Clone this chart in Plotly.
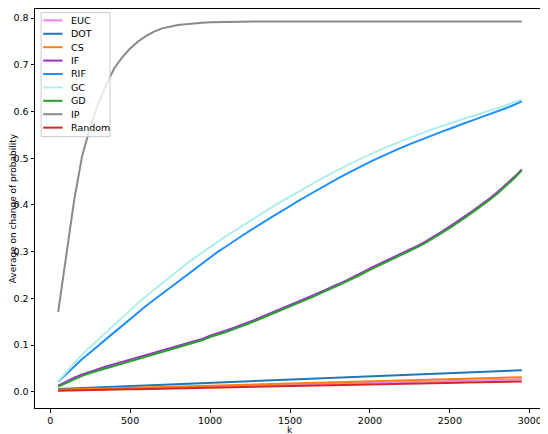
#!/usr/bin/env python3

import plotly.graph_objs as go

# Data
k = [50, 100, 150, 200, 250, 300, 350, 400, 450, 500,
     550, 600, 650, 700, 750, 800, 850, 900, 950, 1000,
     1050, 1100, 1150, 1200, 1250, 1300, 1350, 1400, 1450, 1500,
     1550, 1600, 1650, 1700, 1750, 1800, 1850, 1900, 1950, 2000,
     2050, 2100, 2150, 2200, 2250, 2300, 2350, 2400, 2450, 2500,
     2550, 2600, 2650, 2700, 2750, 2800, 2850, 2900, 2950]

euc = [0.0030, 0.0036, 0.0039, 0.0044, 0.0047, 0.0053, 0.0055, 0.0061, 0.0064, 0.0068,
       0.0071, 0.0077, 0.0079, 0.0085, 0.0088, 0.0092, 0.0097, 0.0099, 0.0105, 0.0107,
       0.0113, 0.0116, 0.0120, 0.0124, 0.0128, 0.0133, 0.0135, 0.0141, 0.0143, 0.0149,
       0.0151, 0.0156, 0.0159, 0.0164, 0.0167, 0.0172, 0.0175, 0.0180, 0.0184, 0.0187,
       0.0193, 0.0195, 0.0201, 0.0204, 0.0208, 0.0212, 0.0217, 0.0220, 0.0224, 0.0229,
       0.0232, 0.0237, 0.0240, 0.0245, 0.0248, 0.0253, 0.0257, 0.0262, 0.0266]

dot = [0.0060, 0.0067, 0.0074, 0.0081, 0.0088, 0.0095, 0.0101, 0.0108, 0.0115, 0.0122,
       0.0129, 0.0136, 0.0143, 0.0150, 0.0157, 0.0164, 0.0170, 0.0177, 0.0184, 0.0191,
       0.0198, 0.0205, 0.0212, 0.0219, 0.0226, 0.0233, 0.0239, 0.0246, 0.0253, 0.0260,
       0.0267, 0.0274, 0.0281, 0.0288, 0.0295, 0.0302, 0.0308, 0.0315, 0.0322, 0.0329,
       0.0336, 0.0343, 0.0350, 0.0357, 0.0364, 0.0371, 0.0377, 0.0384, 0.0391, 0.0398,
       0.0405, 0.0412, 0.0419, 0.0426, 0.0433, 0.0440, 0.0446, 0.0453, 0.0460]

cs = [0.0040, 0.0045, 0.0049, 0.0054, 0.0059, 0.0063, 0.0068, 0.0073, 0.0077, 0.0082,
      0.0087, 0.0091, 0.0096, 0.0101, 0.0105, 0.0110, 0.0115, 0.0119, 0.0124, 0.0129,
      0.0133, 0.0138, 0.0143, 0.0147, 0.0152, 0.0157, 0.0161, 0.0166, 0.0171, 0.0175,
      0.0180, 0.0185, 0.0189, 0.0194, 0.0199, 0.0203, 0.0208, 0.0213, 0.0217, 0.0222,
      0.0227, 0.0231, 0.0236, 0.0241, 0.0245, 0.0250, 0.0255, 0.0259, 0.0264, 0.0269,
      0.0273, 0.0278, 0.0283, 0.0287, 0.0292, 0.0297, 0.0301, 0.0306, 0.0310]

inf = [0.013, 0.022, 0.030, 0.037, 0.043, 0.048, 0.054, 0.059, 0.064, 0.069,
       0.073, 0.078, 0.083, 0.088, 0.093, 0.098, 0.103, 0.108, 0.113, 0.120,
       0.125, 0.131, 0.137, 0.143, 0.150, 0.157, 0.164, 0.171, 0.178, 0.185,
       0.192, 0.200, 0.207, 0.215, 0.222, 0.230, 0.238, 0.246, 0.255, 0.264,
       0.272, 0.281, 0.289, 0.297, 0.305, 0.313, 0.322, 0.332, 0.343, 0.354,
       0.365, 0.377, 0.389, 0.401, 0.414, 0.428, 0.443, 0.459, 0.476]

rif = [0.021, 0.038, 0.054, 0.070, 0.084, 0.099, 0.113, 0.127, 0.141, 0.156,
       0.170, 0.184, 0.197, 0.210, 0.223, 0.236, 0.249, 0.262, 0.275, 0.288,
       0.300, 0.311, 0.323, 0.334, 0.345, 0.356, 0.366, 0.377, 0.387, 0.398,
       0.408, 0.418, 0.428, 0.438, 0.447, 0.457, 0.466, 0.475, 0.483, 0.492,
       0.500, 0.508, 0.515, 0.523, 0.530, 0.537, 0.543, 0.550, 0.557, 0.563,
       0.570, 0.576, 0.582, 0.588, 0.594, 0.600, 0.607, 0.614, 0.622]

gc = [0.022, 0.042, 0.061, 0.080, 0.096, 0.112, 0.128, 0.143, 0.159, 0.175,
      0.190, 0.205, 0.219, 0.233, 0.247, 0.260, 0.273, 0.286, 0.298, 0.310,
      0.321, 0.333, 0.344, 0.355, 0.366, 0.377, 0.387, 0.398, 0.408, 0.418,
      0.428, 0.438, 0.447, 0.457, 0.466, 0.475, 0.483, 0.492, 0.500, 0.508,
      0.515, 0.523, 0.530, 0.537, 0.544, 0.550, 0.557, 0.563, 0.569, 0.575,
      0.580, 0.586, 0.591, 0.597, 0.602, 0.607, 0.613, 0.619, 0.626]

gd = [0.011, 0.019, 0.027, 0.034, 0.040, 0.045, 0.051, 0.056, 0.061, 0.066,
      0.070, 0.075, 0.080, 0.085, 0.090, 0.095, 0.100, 0.105, 0.110, 0.117,
      0.122, 0.128, 0.134, 0.140, 0.147, 0.154, 0.161, 0.168, 0.175, 0.182,
      0.189, 0.197, 0.204, 0.212, 0.219, 0.227, 0.235, 0.243, 0.252, 0.261,
      0.269, 0.278, 0.286, 0.294, 0.302, 0.310, 0.319, 0.329, 0.340, 0.351,
      0.362, 0.374, 0.386, 0.398, 0.411, 0.425, 0.440, 0.456, 0.474]

ip = [0.171, 0.296, 0.410, 0.505, 0.566, 0.617, 0.657, 0.692, 0.716, 0.735,
      0.750, 0.762, 0.771, 0.778, 0.782, 0.785, 0.787, 0.789, 0.790, 0.791,
      0.7915, 0.792, 0.7923, 0.7925, 0.7927, 0.7928, 0.7929, 0.793, 0.793, 0.793,
      0.793, 0.793, 0.793, 0.793, 0.793, 0.793, 0.793, 0.793, 0.793, 0.793,
      0.793, 0.793, 0.793, 0.793, 0.793, 0.793, 0.793, 0.793, 0.793, 0.793,
      0.793, 0.793, 0.793, 0.793, 0.793, 0.793, 0.793, 0.793, 0.793]

rnd = [0.0020, 0.0025, 0.0027, 0.0031, 0.0034, 0.0038, 0.0041, 0.0044, 0.0048, 0.0051,
       0.0055, 0.0058, 0.0061, 0.0065, 0.0068, 0.0072, 0.0075, 0.0078, 0.0082, 0.0085,
       0.0089, 0.0092, 0.0096, 0.0099, 0.0102, 0.0106, 0.0109, 0.0113, 0.0116, 0.0119,
       0.0123, 0.0126, 0.0130, 0.0133, 0.0137, 0.0140, 0.0143, 0.0147, 0.0150, 0.0154,
       0.0157, 0.0160, 0.0164, 0.0167, 0.0171, 0.0174, 0.0178, 0.0181, 0.0184, 0.0188,
       0.0191, 0.0195, 0.0198, 0.0202, 0.0205, 0.0209, 0.0212, 0.0216, 0.0220]

names = ['EUC', 'DOT', 'CS', 'IF', 'RIF', 'GC', 'GD', 'IP', 'Random']
series = [euc, dot, cs, inf, rif, gc, gd, ip, rnd]
colors = ['#EE82EE', '#1F77B4', '#FF7F0E', '#9932CC', '#1E90FF',
          '#AFEEEE', '#2CA02C', '#8A8A8A', '#D62728']

traces = []
for name, vals, col in zip(names, series, colors):
    traces.append(go.Scatter(x=k, y=vals, mode='lines', name=name,
                             line=dict(color=col, width=2), showlegend=False))

# compact legend box (matplotlib style), drawn in paper coordinates
shapes = [dict(type='rect', xref='paper', yref='paper', x0=0.012, x1=0.147,
               y0=0.680, y1=0.991, fillcolor='rgba(255,255,255,0.8)',
               line=dict(color='#CCCCCC', width=1), layer='above')]
annotations = []
step = 0.0336
for i, (name, col) in enumerate(zip(names, colors)):
    yy = 0.9715 - i * step
    shapes.append(dict(type='line', xref='paper', yref='paper', x0=0.016, x1=0.054,
                       y0=yy, y1=yy, line=dict(color=col, width=2), layer='above'))
    annotations.append(dict(text=name, xref='paper', yref='paper', x=0.066, y=yy,
                            xanchor='left', yanchor='middle', showarrow=False,
                            font=dict(size=9.5)))

# axis titles as annotations so they sit where the reference has them
annotations.append(dict(text='Average on change of probability', xref='paper', yref='paper',
                        x=-0.0435, y=0.5, textangle=-90, xanchor='center', yanchor='middle',
                        showarrow=False, font=dict(size=9)))
annotations.append(dict(text='k', xref='paper', yref='paper', x=0.5, y=-0.0545,
                        xanchor='center', yanchor='middle', showarrow=False,
                        font=dict(size=9)))

axis_style = dict(showline=True, mirror=True, linecolor='black', linewidth=1,
                  ticks='outside', ticklen=3.5, tickwidth=1, tickcolor='black',
                  showgrid=False, zeroline=False, automargin=False,
                  tickfont=dict(size=9.5))

# the page body adds an 8px offset, so the figure is 8px smaller than the window
layout = go.Layout(
    template='none',
    width=540, height=426,
    margin=dict(l=27, r=3, t=1, b=26),
    paper_bgcolor='white', plot_bgcolor='white',
    font=dict(family='DejaVu Sans', size=9, color='black'),
    xaxis=dict(range=[-95, 3095], dtick=500, tickformat='d', **axis_style),
    yaxis=dict(range=[-0.0349, 0.8195], dtick=0.1, tickformat='.1f', **axis_style),
    shapes=shapes,
    annotations=annotations,
    showlegend=False,
)

fig = go.Figure(data=traces, layout=layout)
fig.write_html("out.html")
